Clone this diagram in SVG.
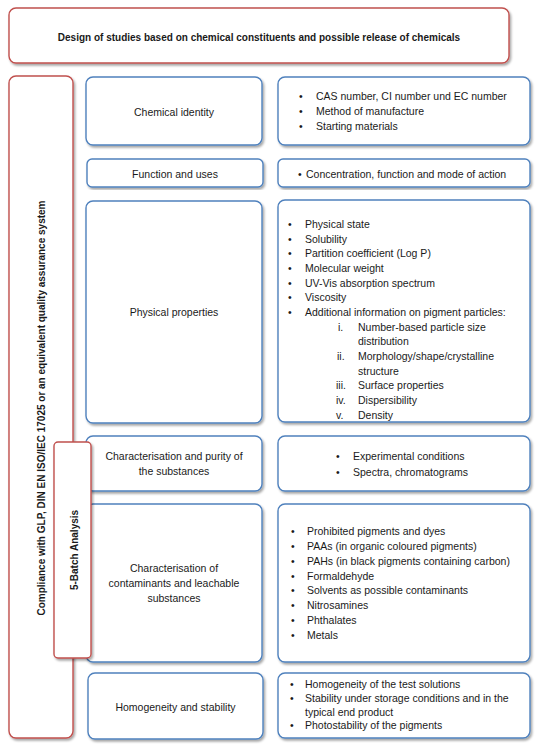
<svg xmlns="http://www.w3.org/2000/svg" width="545" height="752" viewBox="0 0 545 752">
<defs>
<filter id="sh" x="-10%" y="-10%" width="120%" height="120%">
<feDropShadow dx="1.5" dy="2" stdDeviation="1.2" flood-color="#000" flood-opacity="0.35"/>
</filter>
<style>
.red{fill:#fff;stroke:#c0504d;stroke-width:1.4;filter:url(#sh)}
.blue{fill:#fff;stroke:#4f81bd;stroke-width:1.4;filter:url(#sh)}
text{font-family:"Liberation Sans",Arial,sans-serif;font-size:10.5px;fill:#1a1a1a}
.c{text-anchor:middle}
.b{font-weight:bold;font-size:10px}
</style>
</defs>
<rect width="545" height="752" fill="#fff"/>
<g id="header">
<rect class="red" x="9" y="8" width="500" height="55" rx="7"/>
<text class="c b" x="259" y="41">Design of studies based on chemical constituents and possible release of chemicals</text>
</g>
<g id="compliance">
<rect class="red" x="9" y="76" width="64" height="662" rx="7"/>
<text class="c b" transform="translate(45,408) rotate(-90)">Compliance with GLP, DIN EN ISO/IEC 17025 or an equivalent quality assurance system</text>
</g>
<g id="chemical-identity">
<rect class="blue" x="86" y="77" width="176" height="68" rx="7"/>
<text class="c" x="174" y="116">Chemical identity</text>
</g>
<g id="chemical-identity-details">
<rect class="blue" x="278" y="77" width="252" height="68" rx="7"/>
<text x="299" y="100">•</text><text x="316" y="100">CAS number, CI number und EC number</text>
<text x="299" y="115">•</text><text x="316" y="115">Method of manufacture</text>
<text x="299" y="130">•</text><text x="316" y="130">Starting materials</text>
</g>
<g id="function">
<rect class="blue" x="87" y="159" width="176" height="28" rx="5"/>
<text class="c" x="175" y="178">Function and uses</text>
</g>
<g id="function-details">
<rect class="blue" x="278" y="159" width="252" height="28" rx="5"/>
<text x="298" y="178">•</text><text x="306" y="178">Concentration, function and mode of action</text>
</g>
<g id="physical">
<rect class="blue" x="86" y="201" width="176" height="222" rx="7"/>
<text class="c" x="174" y="316">Physical properties</text>
</g>
<g id="physical-details">
<rect class="blue" x="278" y="200" width="252" height="222" rx="7"/>
<text x="288" y="228">•</text><text x="305" y="228">Physical state</text>
<text x="288" y="242.7">•</text><text x="305" y="242.7">Solubility</text>
<text x="288" y="257.3">•</text><text x="305" y="257.3">Partition coefficient (Log P)</text>
<text x="288" y="272">•</text><text x="305" y="272">Molecular weight</text>
<text x="288" y="286.7">•</text><text x="305" y="286.7">UV-Vis absorption spectrum</text>
<text x="288" y="301.3">•</text><text x="305" y="301.3">Viscosity</text>
<text x="288" y="316">•</text><text x="305" y="316">Additional information on pigment particles:</text>
<text x="338" y="330.7">i.</text><text x="358" y="330.7">Number-based particle size</text>
<text x="358" y="345.3">distribution</text>
<text x="337" y="360">ii.</text><text x="358" y="360">Morphology/shape/crystalline</text>
<text x="358" y="374.7">structure</text>
<text x="336" y="389.3">iii.</text><text x="358" y="389.3">Surface properties</text>
<text x="336" y="404">iv.</text><text x="358" y="404">Dispersibility</text>
<text x="336" y="418.7">v.</text><text x="358" y="418.7">Density</text>
</g>
<g id="purity">
<rect class="blue" x="86" y="436" width="176" height="55" rx="7"/>
<text class="c" x="174" y="460">Characterisation and purity of</text>
<text class="c" x="174" y="475">the substances</text>
</g>
<g id="purity-details">
<rect class="blue" x="278" y="436" width="252" height="55" rx="7"/>
<text x="336" y="460">•</text><text x="353" y="460">Experimental conditions</text>
<text x="336" y="476">•</text><text x="353" y="476">Spectra, chromatograms</text>
</g>
<g id="contaminants">
<rect class="blue" x="86" y="504" width="176" height="158" rx="7"/>
<text class="c" x="174" y="572">Characterisation of</text>
<text class="c" x="174" y="587">contaminants and leachable</text>
<text class="c" x="174" y="602">substances</text>
</g>
<g id="contaminants-details">
<rect class="blue" x="278" y="504" width="252" height="158" rx="7"/>
<text x="291" y="535">•</text><text x="307" y="535">Prohibited pigments and dyes</text>
<text x="291" y="549.9">•</text><text x="307" y="549.9">PAAs (in organic coloured pigments)</text>
<text x="291" y="564.7">•</text><text x="307" y="564.7">PAHs (in black pigments containing carbon)</text>
<text x="291" y="579.6">•</text><text x="307" y="579.6">Formaldehyde</text>
<text x="291" y="594.4">•</text><text x="307" y="594.4">Solvents as possible contaminants</text>
<text x="291" y="609.3">•</text><text x="307" y="609.3">Nitrosamines</text>
<text x="291" y="624.1">•</text><text x="307" y="624.1">Phthalates</text>
<text x="291" y="639">•</text><text x="307" y="639">Metals</text>
</g>
<g id="batch">
<rect class="red" x="54" y="442" width="37" height="216" rx="4"/>
<text class="c b" transform="translate(78,550) rotate(-90)">5-Batch Analysis</text>
</g>
<g id="homogeneity">
<rect class="blue" x="88" y="673" width="175" height="66" rx="7"/>
<text class="c" x="175.5" y="711">Homogeneity and stability</text>
</g>
<g id="homogeneity-details">
<rect class="blue" x="278" y="673" width="252" height="65" rx="7"/>
<text x="290" y="688">•</text><text x="305" y="688">Homogeneity of the test solutions</text>
<text x="290" y="702">•</text><text x="305" y="702">Stability under storage conditions and in the</text>
<text x="305" y="716">typical end product</text>
<text x="290" y="729">•</text><text x="305" y="729">Photostability of the pigments</text>
</g>
<g id="connectors"></g>
</svg>
